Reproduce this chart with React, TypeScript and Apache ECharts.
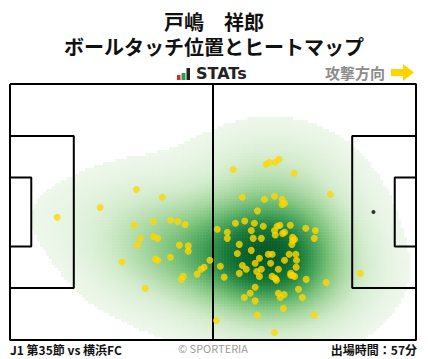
import React, { useEffect, useRef } from "react";
import * as echarts from "echarts";

// ---------- text ----------
const titleLines = ["戸嶋　祥郎", "ボールタッチ位置とヒートマップ"];
const brandLabel = "STATs";
const directionLabel = "攻撃方向";
const matchLabel = "J1 第35節 vs 横浜FC";
const creditLabel = "© SPORTERIA";
const minutesLabel = "出場時間：57分";

// ---------- pitch (metres) ----------
const PITCH_LENGTH = 105;
const PITCH_WIDTH = 68;
const pitchOutline: [number, number][] = [[0, 0], [105, 0], [105, 68], [0, 68], [0, 0]];
const halfwayLine: [number, number][] = [[52.5, 0], [52.5, 68]];
const leftPenaltyArea: [number, number][] = [[0, 13.84], [16.5, 13.84], [16.5, 54.16], [0, 54.16]];
const leftGoalArea: [number, number][] = [[0, 24.84], [5.5, 24.84], [5.5, 43.16], [0, 43.16]];
const rightPenaltyArea: [number, number][] = [[105, 13.84], [88.5, 13.84], [88.5, 54.16], [105, 54.16]];
const rightGoalArea: [number, number][] = [[105, 24.84], [99.5, 24.84], [99.5, 43.16], [105, 43.16]];
const penaltySpots: [number, number][] = [[94, 34]];

// ---------- ball touches (x: metres from own goal line, y: metres from top touchline) ----------
const ownHalfTouches: [number, number][] = [
  [12.2, 35.4], [23.3, 32.8], [32.7, 28.0], [39.4, 30.1], [32.1, 37.5], [37.1, 36.5],
  [41.5, 36.2], [43.4, 36.5], [45.3, 37.3], [33.7, 41.0], [37.1, 40.5], [38.2, 41.0],
  [32.9, 42.8], [43.8, 42.8], [46.1, 43.0], [46.1, 44.4], [37.6, 46.5], [38.2, 46.8],
  [41.5, 46.0], [51.7, 46.8], [29.0, 47.3], [50.2, 48.7], [49.4, 49.2], [48.4, 50.5],
  [44.8, 51.1], [44.3, 51.9], [35.0, 54.3],
];
const oppHalfUpperTouches: [number, number][] = [
  [57.7, 22.7], [66.2, 21.3], [67.1, 20.8], [68.6, 20.8], [69.6, 20.0], [73.5, 23.7],
  [60.1, 30.1], [65.8, 30.6], [68.4, 29.8], [70.4, 30.6], [71.0, 31.7], [70.4, 32.0],
  [82.8, 29.3], [64.0, 33.7],
];
const oppHalfCentralTouches: [number, number][] = [
  [53.6, 38.6], [58.3, 37.0], [60.7, 36.4], [63.2, 37.0], [65.5, 37.8], [56.2, 39.4],
  [56.2, 41.0], [62.4, 38.9], [62.9, 41.0], [65.0, 41.0], [69.1, 37.8], [69.8, 37.5],
  [68.4, 38.9], [68.6, 40.1], [70.5, 39.7], [71.0, 39.4], [72.5, 37.5], [73.1, 40.7],
  [73.6, 41.3], [73.1, 41.5], [72.9, 42.6], [76.5, 38.3], [79.0, 38.9], [78.7, 41.0],
  [59.3, 42.6], [62.4, 44.2], [58.8, 45.0], [64.5, 46.3], [66.8, 45.2], [67.8, 45.2],
  [72.2, 45.2], [73.9, 45.2], [74.1, 46.8], [63.4, 47.6], [67.4, 47.6], [71.0, 46.8],
];
const oppHalfLowerTouches: [number, number][] = [
  [54.4, 48.4], [60.1, 48.2], [61.1, 49.2], [59.3, 50.3], [63.8, 49.8], [65.0, 49.2],
  [64.5, 51.1], [69.4, 49.2], [74.0, 48.7], [72.6, 50.3], [73.1, 50.8], [73.6, 51.1],
  [72.6, 50.8], [67.8, 51.1], [68.6, 51.6], [68.9, 52.1], [55.4, 51.3], [76.6, 51.9],
  [81.8, 52.7], [63.4, 54.0], [62.1, 55.6], [60.6, 56.7], [69.4, 55.6], [69.9, 56.7],
  [70.9, 55.9], [74.6, 54.5], [75.6, 56.7], [63.4, 57.6], [70.7, 59.6], [64.0, 61.4],
  [78.7, 61.4], [53.4, 62.8], [68.4, 66.0], [90.6, 50.3],
];

const touches: [number, number][] = [
  ...ownHalfTouches,
  ...oppHalfUpperTouches,
  ...oppHalfCentralTouches,
  ...oppHalfLowerTouches,
];

// ---------- heat map (kernel density of the touches) ----------
const NX = 135;
const NY = 85;
const BW_X = 11.5;
const BW_Y = 7.5;
const THRESH = 0.032;
const greens = ["#eef7eb", "#d2ebcc", "#a9d8a2", "#78c179", "#43a057", "#167837", "#005623"];

function densityCells() {
  const vals: number[][] = [];
  let maxV = 0;
  for (let i = 0; i < NX; i++) {
    for (let j = 0; j < NY; j++) {
      const cx = ((i + 0.5) * PITCH_LENGTH) / NX;
      const cy = ((j + 0.5) * PITCH_WIDTH) / NY;
      let v = 0;
      for (const [px, py] of touches) {
        const dx = (cx - px) / BW_X;
        const dy = (cy - py) / BW_Y;
        v += Math.exp(-0.5 * (dx * dx + dy * dy));
      }
      if (v > maxV) maxV = v;
      vals.push([i, j, v]);
    }
  }
  return vals
    .map(([i, j, v]) => [i, j, v / maxV])
    .filter((c) => c[2] >= THRESH);
}

const FONT_JP = '"Noto Sans CJK JP", "Noto Sans", sans-serif';

export default function App() {
  const ref = useRef<HTMLDivElement>(null);

  useEffect(() => {
    if (!ref.current) return;
    const chart = echarts.init(ref.current, undefined, { renderer: "svg" });

    const gridPos = { left: 10, top: 84, width: 406, height: 256 };
    const lineSeries = [
      pitchOutline, halfwayLine, leftPenaltyArea, leftGoalArea, rightPenaltyArea, rightGoalArea,
    ].map((d) => ({
      type: "line",
      xAxisIndex: 1,
      yAxisIndex: 1,
      data: d,
      symbol: "none",
      clip: false,
      silent: true,
      z: 4,
      lineStyle: { color: "#000", width: 2 },
    }));

    chart.setOption({
      animation: false,
      backgroundColor: "#fff",
      grid: [{ ...gridPos }, { ...gridPos }],
      xAxis: [
        { type: "category", gridIndex: 0, data: Array.from({ length: NX }, (_, i) => i), show: false },
        { type: "value", gridIndex: 1, min: 0, max: PITCH_LENGTH, show: false },
      ],
      yAxis: [
        { type: "category", gridIndex: 0, inverse: true, data: Array.from({ length: NY }, (_, i) => i), show: false },
        { type: "value", gridIndex: 1, min: 0, max: PITCH_WIDTH, inverse: true, show: false },
      ],
      visualMap: {
        type: "continuous",
        show: false,
        seriesIndex: 0,
        dimension: 2,
        min: THRESH,
        max: 1,
        inRange: { color: greens },
      },
      series: [
        {
          type: "heatmap",
          xAxisIndex: 0,
          yAxisIndex: 0,
          data: densityCells(),
          progressive: 0,
          silent: true,
          z: 1,
          itemStyle: { borderWidth: 0 },
          emphasis: { disabled: true },
        },
        ...lineSeries,
        {
          type: "scatter",
          xAxisIndex: 1,
          yAxisIndex: 1,
          data: penaltySpots,
          symbolSize: 4,
          silent: true,
          z: 5,
          itemStyle: { color: "#000" },
        },
        {
          type: "scatter",
          xAxisIndex: 1,
          yAxisIndex: 1,
          data: touches,
          symbolSize: 7,
          silent: true,
          z: 6,
          itemStyle: { color: "#FFD700" },
        },
      ],
      graphic: [
        {
          type: "text",
          x: 214, y: 33.5,
          style: {
            text: titleLines.join("\n"),
            font: `bold 20px ${FONT_JP}`,
            lineHeight: 25,
            fill: "#111",
            align: "center",
            verticalAlign: "middle",
          },
        },
        // brand icon
        { type: "rect", shape: { x: 177, y: 75, width: 3.5, height: 5 }, style: { fill: "#e0262b" } },
        { type: "rect", shape: { x: 181.5, y: 73, width: 4, height: 7 }, style: { fill: "#27a243" } },
        { type: "rect", shape: { x: 186.5, y: 68, width: 3.5, height: 12 }, style: { fill: "#222" } },
        {
          type: "text",
          x: 196, y: 73.5,
          style: { text: brandLabel, font: 'bold 16px "DejaVu Sans", sans-serif', fill: "#222", align: "left", verticalAlign: "middle" },
        },
        {
          type: "text",
          x: 325, y: 72,
          style: { text: directionLabel, font: `bold 15px ${FONT_JP}`, fill: "#8c8c8c", align: "left", verticalAlign: "middle" },
        },
        {
          type: "polygon",
          shape: { points: [[391, 69], [403, 69], [403, 64], [414, 72.5], [403, 81], [403, 76], [391, 76]] },
          style: { fill: "#FFD500" },
        },
        {
          type: "text",
          x: 10, y: 349,
          style: { text: matchLabel, font: `bold 12px ${FONT_JP}`, fill: "#111", align: "left", verticalAlign: "middle" },
        },
        {
          type: "text",
          x: 213, y: 348,
          style: { text: creditLabel, font: `11px ${FONT_JP}`, fill: "#9a9a9a", align: "center", verticalAlign: "middle" },
        },
        {
          type: "text",
          x: 417, y: 349,
          style: { text: minutesLabel, font: `bold 12px ${FONT_JP}`, fill: "#111", align: "right", verticalAlign: "middle" },
        },
      ],
    });

    return () => chart.dispose();
  }, []);

  return (
    <div
      ref={ref}
      style={{ position: "absolute", left: 0, top: 0, width: 428, height: 359 }}
    />
  );
}
